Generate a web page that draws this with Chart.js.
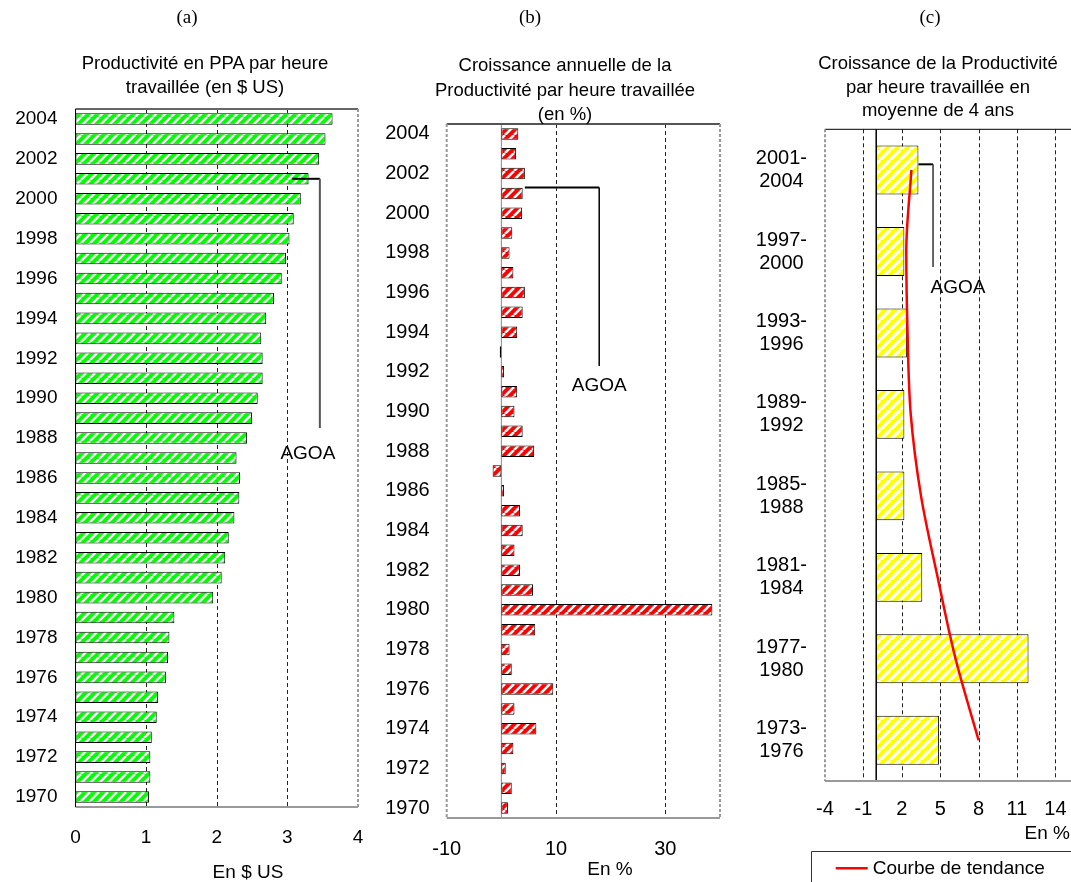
<!DOCTYPE html>
<html lang="fr">
<head>
<meta charset="utf-8">
<title>Productivité par heure travaillée</title>
<script src="https://cdn.jsdelivr.net/npm/chart.js@4/dist/chart.umd.min.js"></script>
<style>
  html, body { margin: 0; padding: 0; background: #fff; width: 1071px; height: 882px; overflow: hidden; }
  .panel { position: absolute; top: 0; height: 882px; }
  .txt { position: absolute; font-family: "Liberation Sans", Arial, sans-serif; color: #000; white-space: nowrap; }
  .ttl { text-align: center; font-size: 18.5px; line-height: 23.5px; }
  .sub { position: absolute; font-family: "Liberation Serif", "DejaVu Serif", serif; font-size: 19px; text-align: center; width: 40px; }
  .axt { font-size: 19px; line-height: 22px; }
</style>
</head>
<body>
<div class="panel" style="left:0; width:370px;"><canvas id="chartA"></canvas></div>
<div class="panel" style="left:370px; width:370px;"><canvas id="chartB"></canvas></div>
<div class="panel" style="left:740px; width:370px;"><canvas id="chartC"></canvas></div>

<div class="sub" style="left:167px; top:6px;">(a)</div>
<div class="sub" style="left:510px; top:6px;">(b)</div>
<div class="sub" style="left:910px; top:6px;">(c)</div>

<div class="txt ttl" style="left:55px; width:300px; top:51px;">Productivité en PPA par heure<br>travaillée (en $ US)</div>
<div class="txt ttl" style="left:415px; width:300px; top:53px; line-height:24.5px;">Croissance annuelle de la<br>Productivité par heure travaillée<br>(en %)</div>
<div class="txt ttl" style="left:788px; width:300px; top:51px;">Croissance de la Productivité<br>par heure travaillée en<br>moyenne de 4 ans</div>

<div class="txt axt" style="left:198px; width:100px; text-align:center; top:861px;">En $ US</div>
<div class="txt axt" style="left:560px; width:100px; text-align:center; top:858px;">En %</div>
<div class="txt axt" style="right:1px; top:822px;">En %</div>

<script>
Chart.defaults.font.family = '"Liberation Sans", Arial, sans-serif';
Chart.defaults.color = '#000';
Chart.defaults.animation = false;

// yearly series, 1970 -> 2004
const years = ['1970', '1971', '1972', '1973', '1974', '1975', '1976', '1977', '1978', '1979',
    '1980', '1981', '1982', '1983', '1984', '1985', '1986', '1987', '1988', '1989',
    '1990', '1991', '1992', '1993', '1994', '1995', '1996', '1997', '1998', '1999',
    '2000', '2001', '2002', '2003', '2004'];
const productivity = [1.04, 1.06, 1.06, 1.08, 1.15, 1.17, 1.28, 1.31, 1.33, 1.40,
    1.95, 2.07, 2.12, 2.17, 2.25, 2.32, 2.33, 2.28, 2.43, 2.50,
    2.58, 2.65, 2.65, 2.63, 2.70, 2.81, 2.92, 2.98, 3.03, 3.09,
    3.19, 3.30, 3.45, 3.54, 3.64];
const growth = [1.2, 1.9, 0.8, 2.2, 6.4, 2.4, 9.5, 1.9, 1.5, 6.2,
    38.6, 5.8, 3.4, 2.4, 3.9, 3.4, 0.5, -1.6, 6.0, 3.9,
    2.4, 2.9, 0.5, -0.3, 2.9, 3.9, 4.3, 2.2, 1.5, 2.0,
    3.8, 3.9, 4.3, 2.7, 3.1];

// 4-year averages, oldest first
const periods = [['1973-', '1976'], ['1977-', '1980'], ['1981-', '1984'], ['1985-', '1988'],
    ['1989-', '1992'], ['1993-', '1996'], ['1997-', '2000'], ['2001-', '2004']];
const periodGrowth = [4.9, 11.9, 3.6, 2.2, 2.2, 2.4, 2.2, 3.3];
const trend = [8.0, 6.2, 4.8, 3.5, 2.7, 2.45, 2.35, 2.75];

const ticksA = [0, 1, 2, 3, 4];
const ticksB = [-10, 10, 30];
const ticksC = [-4, -1, 2, 5, 8, 11, 14, 17];

const marker = 'AGOA';

// fill with white diagonal hatching
function stripes(color, size, width) {
    const c = document.createElement('canvas');
    c.width = size;
    c.height = size;
    const g = c.getContext('2d');
    g.fillStyle = color;
    g.fillRect(0, 0, size, size);
    g.strokeStyle = '#fff';
    g.lineWidth = width;
    g.beginPath();
    for (let k = -1; k <= 1; k++) {
        g.moveTo(k * size, size);
        g.lineTo(k * size + size, 0);
    }
    g.stroke();
    return g.createPattern(c, 'repeat');
}

function seg(ctx, x1, y1, x2, y2, st) {
    ctx.strokeStyle = st.color;
    ctx.lineWidth = st.width;
    ctx.setLineDash(st.dash || []);
    ctx.beginPath();
    ctx.moveTo(x1, y1);
    ctx.lineTo(x2, y2);
    ctx.stroke();
}

// dashed grid, zero line and outline of the plot area
function frame(cfg) {
    return {
        id: 'frame',
        beforeDatasetsDraw(chart) {
            const {ctx, chartArea: a, scales: {x}} = chart;
            ctx.save();
            cfg.grid.forEach(v => {
                const px = Math.round(x.getPixelForValue(v)) + 0.5;
                seg(ctx, px, a.top, px, a.bottom, {color: '#222', width: 1, dash: [4, 3]});
            });
            if (cfg.zero) {
                const z = x.getPixelForValue(0);
                seg(ctx, z, a.top, z, a.bottom, cfg.zero);
            }
            seg(ctx, a.left, a.top, a.right, a.top, cfg.top);
            seg(ctx, a.left, a.bottom, a.right, a.bottom, cfg.bottom);
            seg(ctx, a.left, a.top, a.left, a.bottom, cfg.left);
            if (cfg.right) seg(ctx, a.right, a.top, a.right, a.bottom, cfg.right);
            ctx.restore();
        }
    };
}

// bracket pointing at 2001 with its label
function agoa(cfg) {
    return {
        id: 'agoa',
        afterDatasetsDraw(chart) {
            const {ctx, scales: {x, y}} = chart;
            const yAt = y.getPixelForValue(cfg.at);
            const x1 = x.getPixelForValue(cfg.from);
            const x2 = x.getPixelForValue(cfg.to);
            const yEnd = y.getPixelForValue(cfg.end);
            ctx.save();
            seg(ctx, x1, yAt, x2, yAt, {color: '#000', width: cfg.hWidth});
            seg(ctx, x2, yAt, x2, yEnd, {color: cfg.vColor, width: cfg.vWidth});
            ctx.font = '19px "Liberation Sans", Arial, sans-serif';
            ctx.fillStyle = '#000';
            ctx.textAlign = 'center';
            ctx.textBaseline = 'middle';
            ctx.fillText(marker, x.getPixelForValue(cfg.textX), y.getPixelForValue(cfg.textAt));
            ctx.restore();
        }
    };
}

function evenYears(value, index) {
    return index % 2 === 0 ? this.getLabelForValue(value) : '';
}

function fixedTicks(list) {
    return function (scale) {
        scale.ticks = list.map(v => ({value: v}));
    };
}

// tick marks are hidden with the grid, tickLength only pushes the labels down
function valueGrid(gap) {
    return {display: false, drawTicks: true, tickLength: gap};
}

const grey = {color: '#999', width: 2};
const greyDash = {color: '#999', width: 2, dash: [3, 2]};

new Chart(document.getElementById('chartA'), {
    type: 'bar',
    data: {
        labels: years,
        datasets: [{
            label: 'Productivité',
            data: productivity,
            backgroundColor: stripes('#00ff00', 9, 2.6),
            borderColor: '#000',
            borderWidth: 1,
            borderSkipped: false,
            barPercentage: 0.58,
            categoryPercentage: 1
        }]
    },
    options: {
        indexAxis: 'y',
        responsive: true,
        maintainAspectRatio: false,
        layout: {padding: {top: 109, right: 12, bottom: 15, left: 0}},
        plugins: {legend: {display: false}, tooltip: {enabled: false}},
        scales: {
            x: {
                min: 0,
                max: 4,
                afterBuildTicks: fixedTicks(ticksA),
                afterFit: function (scale) { scale.height = 60; },
                grid: valueGrid(19),
                border: {display: false},
                ticks: {font: {size: 19}, padding: 0, maxRotation: 0}
            },
            y: {
                reverse: true,
                afterFit: function (scale) { scale.width = 75.5; },
                grid: {display: false, drawTicks: false},
                border: {display: false},
                ticks: {font: {size: 19}, padding: 18, autoSkip: false, callback: evenYears}
            }
        }
    },
    plugins: [
        frame({grid: [1, 2, 3], top: {color: '#666', width: 2}, bottom: grey,
            left: {color: '#000', width: 1}, right: greyDash}),
        agoa({at: 31, from: 3.07, to: 3.46, end: 18.5, hWidth: 2, vColor: '#555', vWidth: 2,
            textX: 3.29, textAt: 17.2})
    ]
});

new Chart(document.getElementById('chartB'), {
    type: 'bar',
    data: {
        labels: years,
        datasets: [{
            label: 'Croissance annuelle',
            data: growth,
            backgroundColor: stripes('#ff0000', 9, 2.6),
            borderColor: '#000',
            borderWidth: 1,
            borderSkipped: false,
            barPercentage: 0.58,
            categoryPercentage: 1
        }]
    },
    options: {
        indexAxis: 'y',
        responsive: true,
        maintainAspectRatio: false,
        layout: {padding: {top: 124, right: 20, bottom: 4, left: 0}},
        plugins: {legend: {display: false}, tooltip: {enabled: false}},
        scales: {
            x: {
                min: -10,
                max: 40,
                afterBuildTicks: fixedTicks(ticksB),
                afterFit: function (scale) { scale.height = 60; },
                grid: valueGrid(19.5),
                border: {display: false},
                ticks: {font: {size: 20}, padding: 0, maxRotation: 0}
            },
            y: {
                reverse: true,
                afterFit: function (scale) { scale.width = 76.7; },
                grid: {display: false, drawTicks: false},
                border: {display: false},
                ticks: {font: {size: 20}, padding: 17, autoSkip: false, callback: evenYears}
            }
        }
    },
    plugins: [
        frame({grid: ticksB.slice(1), zero: {color: '#888', width: 1}, top: {color: '#555', width: 2},
            bottom: grey, left: greyDash, right: greyDash}),
        agoa({at: 31.3, from: 4.3, to: 17.9, end: 22.3, hWidth: 2, vColor: '#000', vWidth: 1.5,
            textX: 17.9, textAt: 21.3})
    ]
});

// legend box under the third panel
const trendLegend = {
    id: 'trendLegend',
    afterDraw(chart) {
        const {ctx} = chart;
        const ds = chart.data.datasets[0];
        ctx.save();
        seg(ctx, 71.5, 851.5, 71.5, 900, {color: '#333', width: 1});
        seg(ctx, 71.5, 851.5, 400, 851.5, {color: '#333', width: 1});
        seg(ctx, 95.7, 868.3, 127.7, 868.3, {color: ds.borderColor, width: 2.5});
        ctx.font = '19px "Liberation Sans", Arial, sans-serif';
        ctx.fillStyle = '#000';
        ctx.textAlign = 'left';
        ctx.textBaseline = 'middle';
        ctx.fillText(ds.label, 132.7, 868.5);
        ctx.restore();
    }
};

new Chart(document.getElementById('chartC'), {
    type: 'bar',
    data: {
        labels: periods,
        datasets: [{
            type: 'line',
            label: 'Courbe de tendance',
            data: trend,
            borderColor: '#ff0000',
            borderWidth: 2.5,
            pointRadius: 0,
            cubicInterpolationMode: 'monotone',
            order: 0
        }, {
            type: 'bar',
            label: 'Croissance moyenne',
            data: periodGrowth,
            backgroundColor: stripes('#ffff00', 10, 3.6),
            borderColor: '#000',
            borderWidth: 1,
            borderSkipped: false,
            barPercentage: 0.6,
            categoryPercentage: 1,
            order: 1
        }]
    },
    options: {
        indexAxis: 'y',
        responsive: true,
        maintainAspectRatio: false,
        layout: {padding: {top: 129.3, right: 16.2, bottom: 51, left: 0}},
        plugins: {legend: {display: false}, tooltip: {enabled: false}},
        scales: {
            x: {
                min: -4,
                max: 17,
                afterBuildTicks: fixedTicks(ticksC),
                afterFit: function (scale) { scale.height = 50; },
                grid: valueGrid(16),
                border: {display: false},
                ticks: {font: {size: 20}, padding: 0, maxRotation: 0}
            },
            y: {
                reverse: true,
                afterFit: function (scale) { scale.width = 85; },
                grid: {display: false, drawTicks: false},
                border: {display: false},
                ticks: {font: {size: 20, lineHeight: 1.15}, padding: 18, crossAlign: 'center', autoSkip: false}
            }
        }
    },
    plugins: [
        frame({grid: ticksC.slice(1, 7), zero: {color: '#000', width: 1.5}, top: {color: '#000', width: 1},
            bottom: grey, left: greyDash}),
        agoa({at: 7.07, from: 3.3, to: 4.44, end: 5.81, hWidth: 2, vColor: '#333', vWidth: 1.5,
            textX: 6.39, textAt: 5.55}),
        trendLegend
    ]
});
</script>
</body>
</html>
